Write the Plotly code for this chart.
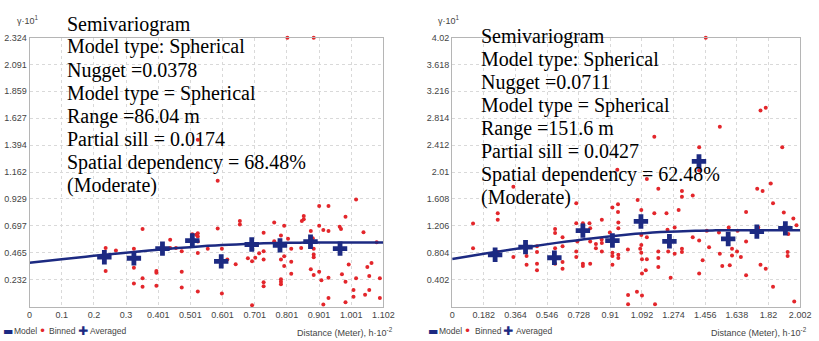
import plotly.graph_objects as go

# ---------------- Left semivariogram ----------------
L_bin_x = [0.237, 0.237, 0.269, 0.325, 0.325, 0.325, 0.352, 0.352, 0.352, 0.395, 0.395, 0.395,
           0.438, 0.438, 0.456, 0.474, 0.474, 0.474, 0.507, 0.519, 0.524, 0.524, 0.524, 0.524,
           0.524, 0.524, 0.555, 0.586, 0.586, 0.599, 0.599, 0.616, 0.642, 0.655, 0.655, 0.680,
           0.693, 0.693, 0.703, 0.715, 0.729, 0.729, 0.729, 0.729, 0.729, 0.762, 0.762, 0.783,
           0.783, 0.783, 0.783, 0.783, 0.793, 0.793, 0.793, 0.805, 0.815, 0.815, 0.815, 0.803,
           0.885, 0.846, 0.848, 0.854, 0.854, 0.876, 0.882, 0.885, 0.885, 0.885, 0.876, 0.885,
           0.902, 0.902, 0.902, 0.909, 0.915, 0.915, 0.931, 0.931, 0.931, 0.931, 0.966, 0.970,
           0.973, 0.984, 0.984, 0.984, 0.994, 1.009, 1.009, 1.017, 1.017, 1.040, 1.045, 1.052,
           1.058, 1.058, 1.065, 1.081, 1.091, 1.091]
L_bin_y = [0.505, 0.306, 0.483, 0.500, 0.335, 0.198, 0.670, 0.244, 0.170, 0.306, 0.292, 0.179,
           0.576, 0.505, 0.505, 0.477, 0.300, 0.164, 0.624, 0.619, 0.633, 0.604, 0.562, 0.462,
           0.130, 1.441, 0.500, 1.087, 0.675, 0.500, 0.113, 0.406, 0.366, 0.738, 0.709, 0.417,
           0.392, 0.010, 0.421, 0.460, 0.638, 0.477, 0.406, 0.210, 0.175, 0.726, 0.564, 0.613,
           0.406, 0.236, 0.213, 0.193, 0.698, 0.434, 0.349, 0.585, 0.500, 0.386, 0.283, 2.321,
           2.321, 0.505, 0.738, 0.783, 0.755, 0.653, 0.590, 0.500, 0.449, 0.426, 0.321, 0.272,
           0.868, 0.698, 0.300, 0.227, 0.661, 0.017, 0.868, 0.653, 0.249, 0.074, 0.690, 0.670,
           0.278, 0.775, 0.215, 0.037, 0.364, 0.142, 0.085, 0.244, 0.925, 0.641, 0.102, 0.341,
           0.264, 0.142, 0.377, 0.556, 0.244, 0.074]
L_avg_x = [0.233, 0.325, 0.414, 0.507, 0.597, 0.692, 0.780, 0.875, 0.967]
L_avg_y = [0.426, 0.417, 0.500, 0.570, 0.390, 0.536, 0.528, 0.560, 0.500]
L_model_x = [0.0, 0.1, 0.2, 0.3, 0.4, 0.5, 0.6, 0.7, 0.8, 0.8604, 1.102]
L_model_y = [0.378, 0.408, 0.438, 0.465, 0.491, 0.513, 0.531, 0.543, 0.551, 0.552, 0.552]
L_xticks = ["0", "0.1", "0.2", "0.3", "0.401", "0.501", "0.601", "0.701", "0.801", "0.901", "1.001", "1.102"]
L_yticks = ["0.232", "0.465", "0.697", "0.929", "1.162", "1.394", "1.627", "1.859", "2.091", "2.324"]
L_text = ["Semivariogram", "Model type: Spherical", "Nugget =0.0378", "Model type = Spherical",
          "Range =86.04 m", "Partial sill = 0.0174", "Spatial dependency = 68.48%", "(Moderate)"]

# ---------------- Right semivariogram ----------------
R_bin_x = [0.120, 0.120, 0.262, 0.262, 0.262, 0.352, 0.352, 0.423, 0.428, 0.428, 0.488, 0.488,
           0.488, 0.488, 0.592, 0.592, 0.592, 0.592, 0.635, 0.635, 0.635, 0.635, 0.714, 0.714,
           0.714, 0.714, 0.752, 0.752, 0.752, 0.790, 0.794, 0.794, 0.827, 0.827, 0.861, 0.861,
           0.861, 1.163, 0.950, 1.120, 1.186, 0.922, 0.954, 0.954, 1.067, 1.088, 1.163, 1.233,
           0.794, 0.752, 0.956, 0.956, 0.907, 1.088, 1.120, 0.860, 0.720, 1.011, 0.922, 0.956,
           0.956, 1.082, 1.186, 1.243, 0.592, 0.922, 0.922, 1.088, 1.092, 1.092, 1.120, 1.186,
           1.186, 1.012, 1.012, 1.063, 1.092, 1.167, 1.088, 1.114, 1.239, 1.257, 1.280, 1.280,
           1.303, 1.322, 1.322, 1.384, 1.421, 1.421, 1.441, 1.465, 1.478, 1.535, 1.540, 1.554,
           1.591, 1.597, 1.610, 1.610, 1.639, 1.661, 1.691, 1.691, 1.691, 1.761, 1.774, 1.804,
           1.846, 1.846, 1.908, 1.934, 1.930, 1.930, 1.963, 1.981, 1.968, 1.540, 1.421, 1.899,
           1.322, 1.322, 1.384, 1.755, 1.786, 1.833, 1.642, 1.459, 1.774, 1.804, 1.421]
R_bin_y = [1.241, 0.872, 1.394, 1.296, 0.813, 1.788, 0.739, 0.921, 0.754, 0.625, 0.902, 0.813,
           0.640, 0.542, 1.157, 1.098, 0.872, 0.640, 1.035, 0.902, 0.665, 0.566, 1.542, 1.246,
           0.823, 0.739, 1.246, 0.640, 0.606, 1.246, 0.971, 0.640, 0.936, 0.872, 1.296, 0.950,
           0.823, 2.538, 2.044, 1.907, 1.759, 1.478, 1.527, 1.414, 1.592, 1.444, 1.394, 1.394,
           1.168, 1.108, 1.256, 1.168, 1.108, 1.069, 1.035, 1.000, 0.971, 0.853, 0.803, 0.773,
           0.724, 0.862, 0.823, 0.823, 0.724, 0.754, 0.625, 0.803, 0.705, 0.492, 0.705, 0.724,
           0.591, 0.173, 0.034, 0.222, 0.163, 0.034, 0.921, 0.542, 1.148, 0.429, 1.182, 0.788,
           1.444, 0.862, 0.813, 1.035, 0.986, 0.492, 0.690, 1.134, 0.887, 1.108, 0.788, 0.606,
           1.182, 0.616, 0.862, 0.764, 0.823, 0.739, 1.414, 0.971, 0.469, 1.182, 0.625, 0.566,
           1.542, 0.296, 1.404, 1.083, 0.813, 0.754, 1.315, 1.216, 0.074, 2.686, 2.380, 2.380,
           1.725, 1.641, 1.660, 1.759, 1.725, 1.837, 1.134, 4.016, 2.931, 2.971, 2.035]
R_avg_x = [0.247, 0.422, 0.588, 0.752, 0.922, 1.086, 1.250, 1.420, 1.588, 1.753, 1.917]
R_avg_y = [0.773, 0.887, 0.729, 1.134, 0.986, 1.271, 0.975, 2.168, 1.010, 1.119, 1.168]
R_model_x = [0.0, 0.2, 0.4, 0.6, 0.8, 1.0, 1.2, 1.4, 1.516, 2.002]
R_model_y = [0.711, 0.795, 0.876, 0.951, 1.018, 1.072, 1.112, 1.134, 1.138, 1.138]
R_xticks = ["0", "0.182", "0.364", "0.546", "0.728", "0.91", "1.092", "1.274", "1.456", "1.638", "1.82", "2.002"]
R_yticks = ["0.402", "0.804", "1.206", "1.608", "2.01", "2.412", "2.814", "3.216", "3.618", "4.02"]
R_text = ["Semivariogram", "Model type: Spherical", "Nugget =0.0711", "Model type = Spherical",
          "Range =151.6 m", "Partial sill = 0.0427", "Spatial dependency = 62.48%", "(Moderate)"]

LEGEND_LABELS = ["Model", "Binned", "Averaged"]

W, H = 819, 341
RED = "#e3262b"
NAVY = "#1c2a82"
SANS = "Liberation Sans Narrow, Liberation Sans, Arial"
TICKFONT = dict(family=SANS, size=9, color="#444444")

fig = go.Figure()

def add_panel(xs, ys, ax, ay, mx, my, xa, ya):
    fig.add_trace(go.Scatter(x=xs, y=ys, mode="markers", name=LEGEND_LABELS[1], xaxis=xa, yaxis=ya,
                             cliponaxis=False, marker=dict(color=RED, size=4)))
    fig.add_trace(go.Scatter(x=mx, y=my, mode="lines", name=LEGEND_LABELS[0], xaxis=xa, yaxis=ya,
                             line=dict(color=NAVY, width=2.5, shape="spline")))
    fig.add_trace(go.Scatter(x=ax, y=ay, mode="markers", name=LEGEND_LABELS[2], xaxis=xa, yaxis=ya,
                             cliponaxis=False,
                             marker=dict(color=NAVY, size=12, symbol="cross", line=dict(width=0))))

add_panel(L_bin_x, L_bin_y, L_avg_x, L_avg_y, L_model_x, L_model_y, "x", "y")
add_panel(R_bin_x, R_bin_y, R_avg_x, R_avg_y, R_model_x, R_model_y, "x2", "y2")

def axis(domain, vmax, labels, anchor, skip_zero=False):
    n = len(labels) - (0 if skip_zero else 1)
    start = 1 if skip_zero else 0
    vals = [vmax * i / n for i in range(start, n + 1)]
    return dict(domain=domain, range=[0, vmax], anchor=anchor,
                tickvals=vals, ticktext=labels,
                showgrid=True, gridcolor="#d9d9d9", griddash="dot", gridwidth=1,
                showline=True, linecolor="#b5b5b5", linewidth=1, mirror=True,
                zeroline=False, ticks="", tickfont=TICKFONT, fixedrange=True)

ytop, ybot = 1 - 33 / H, 1 - 306 / H
fig.update_layout(
    width=W, height=H, margin=dict(l=0, r=0, t=0, b=0),
    paper_bgcolor="white", plot_bgcolor="white", showlegend=False,
    xaxis=axis([27 / W, 387 / W], 1.102, L_xticks, "y"),
    yaxis=axis([ybot, ytop], 2.324, L_yticks, "x", skip_zero=True),
    xaxis2=axis([457 / W, 811 / W], 2.002, R_xticks, "y2"),
    yaxis2=axis([ybot, ytop], 4.02, R_yticks, "x2", skip_zero=True),
)

ann = []
serif = dict(family="Liberation Serif, Times New Roman, serif", size=20, color="black")
L_ys = [19.5, 42.5, 66, 89.5, 113, 136, 159.5, 183]
R_ys = [31.5, 55, 78.5, 102, 125.5, 148.5, 172, 195.5]
for t, py in zip(L_text, L_ys):
    ann.append(dict(text=t, x=63 / W, y=1 - py / H, xref="paper", yref="paper",
                    xanchor="left", yanchor="middle", showarrow=False, font=serif))
for t, py in zip(R_text, R_ys):
    ann.append(dict(text=t, x=484 / W, y=1 - py / H, xref="paper", yref="paper",
                    xanchor="left", yanchor="middle", showarrow=False, font=serif))

small = dict(family=SANS, size=9, color="#444444")
legfont = dict(family=SANS, size=8.5, color="#444444")
def paper_text(text, px, py, xanchor="left", font=small):
    ann.append(dict(text=text, x=px / W, y=1 - py / H, xref="paper", yref="paper",
                    xanchor=xanchor, yanchor="middle", showarrow=False, font=font,
                    borderpad=0))

paper_text("γ·10<sup>1</sup>", 25, 15, "center")
paper_text("γ·10<sup>1</sup>", 454, 15, "center")
paper_text("Distance (Meter), h·10<sup>-2</sup>", 398, 332, "right")
paper_text("Distance (Meter), h·10<sup>-2</sup>", 819, 332, "right")

# legends (one per panel)
sym_line = dict(family="DejaVu Sans", size=11, color=NAVY)
sym_dot = dict(family="DejaVu Sans", size=12, color=RED)
sym_cross = dict(family="DejaVu Sans", size=12, color=NAVY)
for off, pos in [(0, (5, 10, 40, 46, 81, 88)), (430, (7.5, 13, 43, 49, 84, 91))]:
    paper_text("▬", off + pos[0], 331, "center", sym_line)
    paper_text(LEGEND_LABELS[0], off + pos[1], 331, "left", legfont)
    paper_text("•", off + pos[2], 331, "center", sym_dot)
    paper_text(LEGEND_LABELS[1], off + pos[3], 331, "left", legfont)
    paper_text("✚", off + pos[4], 331, "center", sym_cross)
    paper_text(LEGEND_LABELS[2], off + pos[5], 331, "left", legfont)

fig.update_layout(annotations=ann)

fig.write_html("out.html")
